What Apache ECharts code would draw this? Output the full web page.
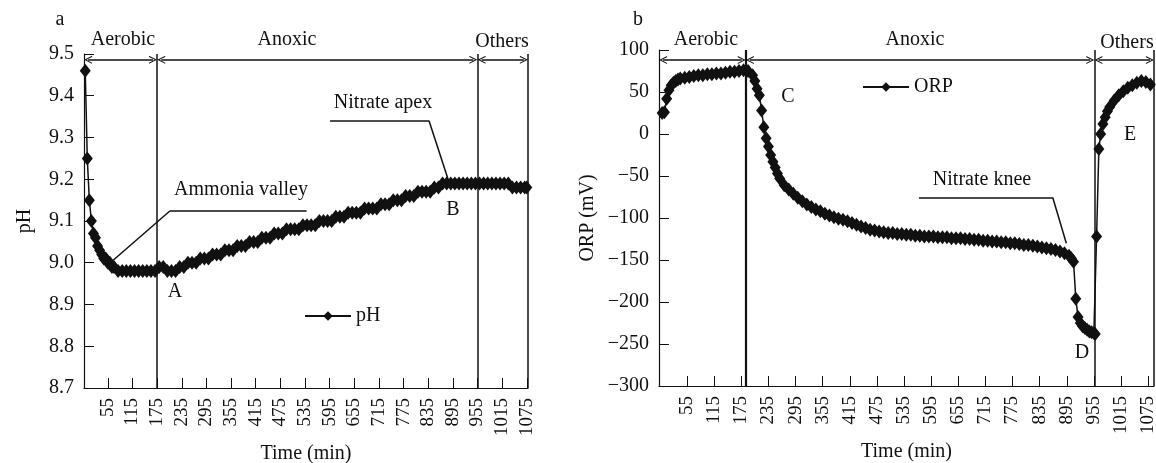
<!DOCTYPE html>
<html>
<head>
<meta charset="utf-8">
<script src="https://cdn.jsdelivr.net/npm/echarts@6/dist/echarts.min.js"></script>
<style>
  html, body { margin: 0; background: #fff; }
  #chart { width: 1156px; height: 463px; }
</style>
</head>
<body>
<div id="chart"></div>
<script>
const timeTicks = [55, 115, 175, 235, 295, 355, 415, 475, 535, 595, 655, 715, 775, 835, 895, 955, 1015, 1075]

// panel a: pH
const phTime = [0, 5, 10, 15, 20, 25, 30, 35, 40, 45, 50, 55, 60, 65, 70,
  80, 90, 100, 110, 120, 130, 140, 150, 160, 170, 180, 190, 200, 210, 220, 230, 240,
  250, 260, 270, 280, 290, 300, 310, 320, 330, 340, 350, 360, 370, 380, 390, 400,
  410, 420, 430, 440, 450, 460, 470, 480, 490, 500, 510, 520, 530, 540, 550, 560,
  570, 580, 590, 600, 610, 620, 630, 640, 650, 660, 670, 680, 690, 700, 710, 720,
  730, 740, 750, 760, 770, 780, 790, 800, 810, 820, 830, 840, 850, 860, 870, 880,
  890, 900, 910, 920, 930, 940, 950, 960, 970, 980, 990, 1000, 1010, 1020, 1030,
  1040, 1050, 1060, 1070, 1075]
const phValue = [9.46, 9.25, 9.15, 9.10, 9.07, 9.06, 9.04, 9.03, 9.02, 9.01, 9.01, 9.00, 9.00, 8.99, 8.99,
  8.98, 8.98, 8.98, 8.98, 8.98, 8.98, 8.98, 8.98, 8.98, 8.98, 8.99, 8.99, 8.98, 8.98, 8.98, 8.99, 8.99,
  9.00, 9.00, 9.00, 9.01, 9.01, 9.01, 9.02, 9.02, 9.02, 9.03, 9.03, 9.03, 9.04, 9.04, 9.04, 9.05,
  9.05, 9.05, 9.06, 9.06, 9.06, 9.07, 9.07, 9.07, 9.08, 9.08, 9.08, 9.08, 9.09, 9.09, 9.09, 9.09,
  9.10, 9.10, 9.10, 9.10, 9.11, 9.11, 9.11, 9.12, 9.12, 9.12, 9.12, 9.13, 9.13, 9.13, 9.13, 9.14,
  9.14, 9.14, 9.15, 9.15, 9.15, 9.16, 9.16, 9.16, 9.17, 9.17, 9.17, 9.17, 9.18, 9.18, 9.19, 9.19,
  9.19, 9.19, 9.19, 9.19, 9.19, 9.19, 9.19, 9.19, 9.19, 9.19, 9.19, 9.19, 9.19, 9.19, 9.19,
  9.18, 9.18, 9.18, 9.18, 9.18]

// panel b: ORP (mV)
const orpTime = [0, 5, 10, 15, 20, 25, 30, 35, 40, 50, 60, 70, 80, 90, 100, 110, 120,
  130, 140, 150, 160, 170, 180, 190, 200, 205, 210, 215, 220, 225, 230, 235, 240,
  245, 250, 255, 260, 270, 280, 290, 300, 310, 320, 330, 340, 350, 360, 370, 380,
  390, 400, 410, 420, 430, 440, 450, 460, 470, 480, 490, 500, 510, 520, 530, 540,
  550, 560, 570, 580, 590, 600, 610, 620, 630, 640, 650, 660, 670, 680, 690, 700,
  710, 720, 730, 740, 750, 760, 770, 780, 790, 800, 810, 820, 830, 840, 850, 860,
  870, 880, 890, 900, 905, 910, 915, 920, 925, 930, 935, 940, 945, 950, 955, 958,
  961, 966, 970, 975, 980, 985, 990, 1000, 1010, 1020, 1030, 1040, 1050, 1060, 1070, 1080]
const orpValue = [25, 26, 42, 52, 58, 61, 63, 65, 66, 67, 68, 69, 70, 70, 71, 71, 72,
  72, 73, 74, 74, 75, 76, 75, 70, 63, 54, 46, 28, 8, -5, -15, -25,
  -33, -40, -47, -53, -61, -66, -71, -76, -80, -84, -87, -90, -92, -95, -97, -99,
  -101, -102, -104, -106, -108, -110, -112, -114, -115, -116, -117, -118, -118, -119, -119, -120,
  -120, -121, -121, -122, -122, -122, -123, -123, -123, -124, -124, -124, -125, -125, -126, -126,
  -127, -127, -128, -128, -129, -129, -130, -130, -131, -132, -132, -133, -134, -135, -136, -137,
  -138, -140, -142, -145, -148, -152, -196, -218, -225, -229, -231, -233, -235, -236, -237, -238,
  -122, -18, 0, 12, 20, 27, 32, 40, 46, 51, 55, 58, 61, 63, 62, 59]

const FONT = "'Liberation Serif', 'Times New Roman', serif"
const arrowHead = 'path://M5,0 L10,10 L8.6,10 L5,2.8 L1.4,10 L0,10 Z'

const arrow = (from, to, y, pad) => [
  { coord: [from + pad, y], symbol: arrowHead, symbolSize: [8, 8] },
  { coord: [to - pad, y], symbol: arrowHead, symbolSize: [8, 8] },
]
const seg = (a, b) => [{ coord: a }, { coord: b }]

const timeAxis = (gridIndex, min, max) => ({
  type: 'value',
  gridIndex,
  min,
  max,
  name: 'Time (min)',
  nameLocation: 'middle',
  nameGap: 55,
  nameTextStyle: { fontFamily: FONT, fontSize: 20, color: '#111' },
  splitLine: { show: false },
  axisLine: { onZero: false, lineStyle: { color: '#111', width: 1.2 } },
  axisTick: { inside: true, length: 10, customValues: timeTicks, lineStyle: { color: '#111' } },
  axisLabel: {
    customValues: timeTicks,
    rotate: 90,
    margin: 10,
    fontFamily: FONT,
    fontSize: 19,
    color: '#111',
    formatter: v => String(v),
  },
})

const valueAxis = (gridIndex, min, max, interval, name, nameGap, fmt) => ({
  type: 'value',
  gridIndex,
  min,
  max,
  interval,
  name,
  nameLocation: 'middle',
  nameGap,
  nameTextStyle: { fontFamily: FONT, fontSize: 20, color: '#111' },
  splitLine: { show: false },
  axisLine: { show: true, onZero: false, lineStyle: { color: '#111', width: 1.2 } },
  axisTick: { show: true, inside: true, length: 10, lineStyle: { color: '#111' } },
  axisLabel: { margin: 10, fontFamily: FONT, fontSize: 20, color: '#111', formatter: fmt },
})

const lineSeries = (name, idx, times, values, markData) => ({
  type: 'line',
  name,
  xAxisIndex: idx,
  yAxisIndex: idx,
  data: times.map((t, i) => [t, values[i]]),
  symbol: 'diamond',
  symbolSize: [11, 14],
  showAllSymbol: true,
  itemStyle: { color: '#111' },
  lineStyle: { color: '#111', width: 1.5 },
  markLine: {
    silent: true,
    animation: false,
    symbol: 'none',
    label: { show: false },
    lineStyle: { color: '#111', width: 1.5, type: 'solid' },
    data: markData,
  },
})

const text = (t, x, y, size) => ({
  type: 'text',
  x,
  y,
  style: {
    text: t,
    fontFamily: FONT,
    fontSize: size || 20,
    fill: '#111',
    align: 'center',
    verticalAlign: 'middle',
    textAlign: 'center',
    textVerticalAlign: 'middle',
  },
})

const chart = echarts.init(document.getElementById('chart'))
chart.setOption({
  animation: false,
  backgroundColor: '#fff',
  grid: [
    { left: 84, top: 54, width: 444, height: 334, outerBoundsMode: 'none', containLabel: false },
    { left: 659, top: 50, width: 495, height: 336, outerBoundsMode: 'none', containLabel: false },
  ],
  legend: [
    {
      data: ['pH'], left: 299, top: 301, itemWidth: 46, itemHeight: 12, itemGap: 8,
      textStyle: { fontFamily: FONT, fontSize: 20, color: '#111' },
    },
    {
      data: ['ORP'], left: 857, top: 72, itemWidth: 46, itemHeight: 12, itemGap: 8,
      textStyle: { fontFamily: FONT, fontSize: 20, color: '#111' },
    },
  ],
  xAxis: [timeAxis(0, -3, 1078), timeAxis(1, -7, 1088)],
  yAxis: [
    valueAxis(0, 8.7, 9.5, 0.1, 'pH', 49, v => v.toFixed(1)),
    valueAxis(1, -300, 100, 50, 'ORP (mV)', 61, v => String(v).replace('-', '\u2212')),
  ],
  series: [
    lineSeries('pH', 0, phTime, phValue, [
      { xAxis: 175 }, { xAxis: 955 }, { xAxis: 1078 },
      arrow(-3, 175, 9.486, 10),
      arrow(175, 955, 9.486, 10),
      arrow(955, 1078, 9.486, 10),
      seg([206, 9.124], [539, 9.124]),
      seg([206, 9.124], [68, 9.006]),
      seg([596, 9.34], [837, 9.34]),
      seg([837, 9.34], [884, 9.198]),
    ]),
    lineSeries('ORP', 1, orpTime, orpValue, [
      { xAxis: 185, lineStyle: { width: 2.2 } }, { xAxis: 956 }, { xAxis: 1088 },
      arrow(-7, 185, 88, 9),
      arrow(185, 956, 88, 9),
      arrow(956, 1088, 88, 9),
      seg([568, -75.6], [864, -75.6]),
      seg([864, -75.6], [894, -130]),
    ]),
  ],
  graphic: [
    text('a', 60, 20),
    text('b', 638, 20),
    text('Aerobic', 123, 40),
    text('Anoxic', 287, 40),
    text('Others', 502, 42),
    text('Aerobic', 706, 40),
    text('Anoxic', 915, 40),
    text('Others', 1127, 43),
    text('Ammonia valley', 241, 190),
    text('Nitrate apex', 383, 103),
    text('Nitrate knee', 982, 180),
    text('A', 175, 292),
    text('B', 453, 210),
    text('C', 788, 97),
    text('D', 1082, 353),
    text('E', 1130, 135),
  ],
})
</script>
</body>
</html>
